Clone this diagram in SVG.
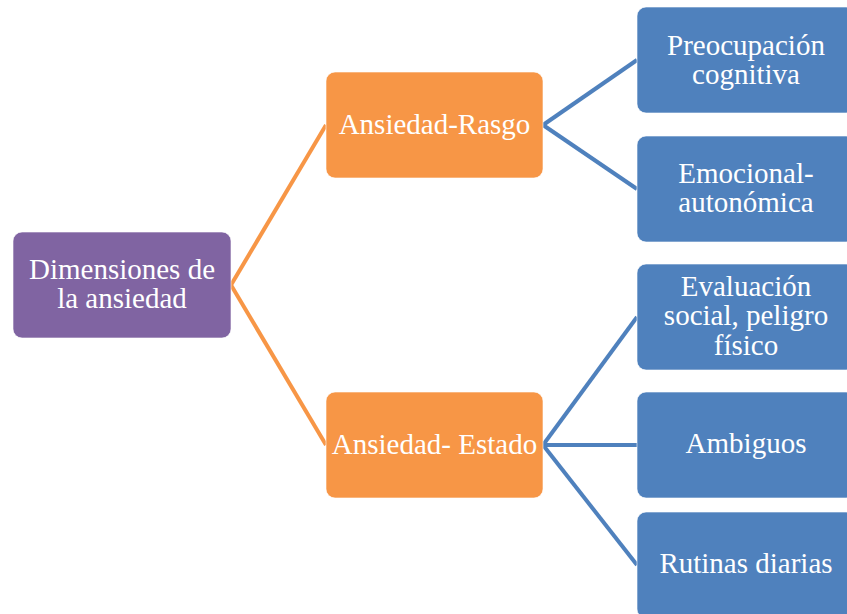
<svg xmlns="http://www.w3.org/2000/svg" width="847" height="614" viewBox="0 0 847 614">
<style>
.box{stroke:#ffffff;stroke-width:1;stroke-opacity:0.6}
.p{fill:#8064A2}
.o{fill:#F79646}
.b{fill:#4F81BD}
.t{font-family:"Liberation Serif","Times New Roman",serif;font-size:29px;fill:#ffffff;text-anchor:middle}
.co{stroke:#F79646;stroke-width:4;fill:none}
.cb{stroke:#4F81BD;stroke-width:4;fill:none}
</style>
<rect width="847" height="614" fill="#ffffff"/>
<g id="connectors">
<path class="co" d="M231,285 L326,125"/>
<path class="co" d="M231,285 L326,445"/>
<path class="cb" d="M543,125 L637,60"/>
<path class="cb" d="M543,125 L637,189"/>
<path class="cb" d="M543,445 L637,317"/>
<path class="cb" d="M543,445 L637,445"/>
<path class="cb" d="M543,445 L637,565"/>
</g>
<g id="root">
<rect class="box p" x="13" y="232" width="218" height="106" rx="9"/>
<text class="t" x="122" y="279">Dimensiones de</text>
<text class="t" x="122" y="308">la ansiedad</text>
</g>
<g id="rasgo">
<rect class="box o" x="326" y="72" width="217" height="106" rx="9"/>
<text class="t" x="434.5" y="134">Ansiedad-Rasgo</text>
</g>
<g id="estado">
<rect class="box o" x="326" y="392" width="217" height="106" rx="9"/>
<text class="t" x="434.5" y="454">Ansiedad- Estado</text>
</g>
<g id="preocupacion">
<rect class="box b" x="637" y="7" width="218" height="106" rx="9"/>
<text class="t" x="746" y="55">Preocupación</text>
<text class="t" x="746" y="84">cognitiva</text>
</g>
<g id="emocional">
<rect class="box b" x="637" y="136" width="218" height="106" rx="9"/>
<text class="t" x="746" y="183">Emocional-</text>
<text class="t" x="746" y="212">autonómica</text>
</g>
<g id="evaluacion">
<rect class="box b" x="637" y="264" width="218" height="106" rx="9"/>
<text class="t" x="746" y="296">Evaluación</text>
<text class="t" x="746" y="325">social, peligro</text>
<text class="t" x="746" y="355">físico</text>
</g>
<g id="ambiguos">
<rect class="box b" x="637" y="392" width="218" height="106" rx="9"/>
<text class="t" x="746" y="453">Ambiguos</text>
</g>
<g id="rutinas">
<rect class="box b" x="637" y="512" width="218" height="106" rx="9"/>
<text class="t" x="746" y="573">Rutinas diarias</text>
</g>
</svg>
